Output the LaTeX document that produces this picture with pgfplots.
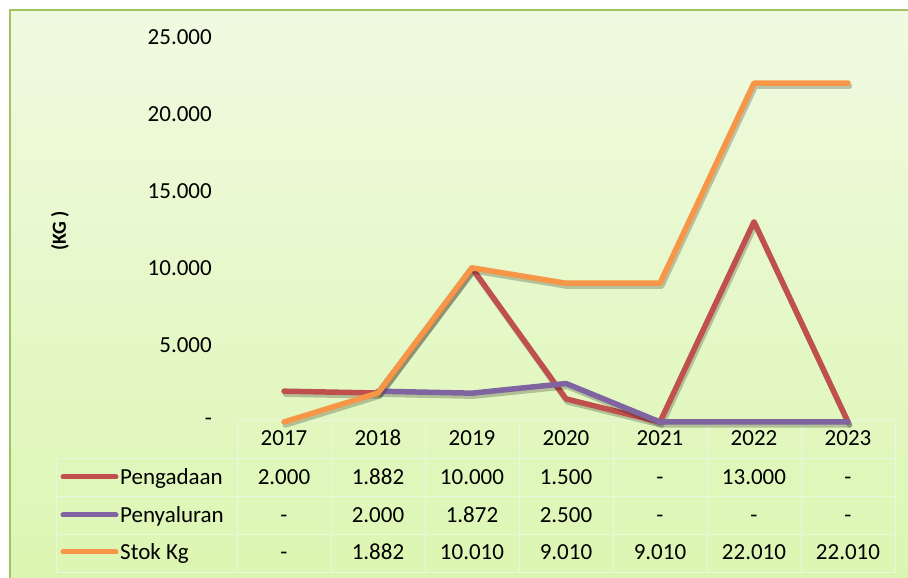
\documentclass[border=0pt]{standalone}
\usepackage{pgfplots}
\pgfplotsset{compat=1.18}
\usepackage{fontspec}
\setmainfont{Carlito}
\definecolor{cRed}{RGB}{192,80,77}
\definecolor{cPur}{RGB}{128,100,162}
\definecolor{cOra}{RGB}{247,150,70}
\definecolor{bgTop}{RGB}{240,250,225}
\definecolor{bgBot}{RGB}{220,246,178}
\definecolor{bord}{RGB}{160,195,100}
\definecolor{grid}{RGB}{236,246,222}
\newcommand{\tf}{\fontsize{23}{26}\selectfont}
\begin{document}
\begin{tikzpicture}
\useasboundingbox (0pt,0pt) rectangle (908pt,578pt);
\fill[white] (0pt,0pt) rectangle (908pt,578pt);
\shade[top color=bgTop, bottom color=bgBot] (10pt,0pt) rectangle (908pt,568pt);
\draw[bord, line width=2pt] (10pt,0pt) -- (10pt,568pt) -- (908pt,568pt);
% table grid
\begin{scope}[grid, line width=1pt]
\draw (237pt,157pt) -- (895pt,157pt);
\foreach \yy in {119,81,43,5} \draw (56pt,\yy pt) -- (895pt,\yy pt);
\draw (56pt,119pt) -- (56pt,5pt);
\foreach \xx in {237,331,425,519,613,707,801,895} \draw (\xx pt,157pt) -- (\xx pt,5pt);
\end{scope}
% legend keys
\begin{scope}[line width=5pt, line cap=round]
\draw[cRed] (63pt,101pt) -- (116pt,101pt);
\draw[cPur] (63pt,63pt) -- (116pt,63pt);
\draw[cOra] (63pt,26pt) -- (116pt,26pt);
\end{scope}
\node[anchor=base west, inner sep=0pt, font=\tf] at (120pt,93.7pt) {Pengadaan};
\node[anchor=base west, inner sep=0pt, font=\tf] at (120pt,55.7pt) {Penyaluran};
\node[anchor=base west, inner sep=0pt, font=\tf] at (120pt,18.7pt) {Stok Kg};
% table values
\foreach \lab [count=\i from 0] in {2017,2018,2019,2020,2021,2022,2023}
  \node[anchor=base, inner sep=0pt, font=\tf] at (284pt+94pt*\i,132.7pt) {\lab};
\foreach \lab [count=\i from 0] in {2.000,1.882,10.000,1.500,-,13.000,-}
  \node[anchor=base, inner sep=0pt, font=\tf] at (284pt+94pt*\i,93.7pt) {\lab};
\foreach \lab [count=\i from 0] in {-,2.000,1.872,2.500,-,-,-}
  \node[anchor=base, inner sep=0pt, font=\tf] at (284pt+94pt*\i,55.7pt) {\lab};
\foreach \lab [count=\i from 0] in {-,1.882,10.010,9.010,9.010,22.010,22.010}
  \node[anchor=base, inner sep=0pt, font=\tf] at (284pt+94pt*\i,18.7pt) {\lab};
\node[rotate=90, font=\fontsize{20}{24}\selectfont\bfseries, inner sep=0pt] at (60pt,347pt) {(KG )};
\begin{axis}[
  at={(237pt,156pt)}, anchor=south west,
  scale only axis, width=658pt, height=385pt,
  xmin=-0.5, xmax=6.5, ymin=0, ymax=25000,
  axis line style={draw=none},
  xtick=\empty,
  scaled y ticks=false,
  ytick={0,5000,10000,15000,20000,25000},
  yticklabels={-,5.000,10.000,15.000,20.000,25.000},
  major tick length=0pt,
  yticklabel style={anchor=east, inner sep=0pt, xshift=-25pt, font=\tf},
  clip=false,
  every axis plot/.append style={line width=5.5pt, line join=round, line cap=round,
    preaction={draw=black, opacity=0.22, transform canvas={xshift=1.5pt, yshift=-3pt}}},
]
\addplot[cRed, mark=none] coordinates {(0,2000) (1,1882) (2,10000) (3,1500) (4,0) (5,13000) (6,0)};
\addplot[cPur, mark=none] coordinates {(1,2000) (2,1872) (3,2500) (4,0) (5,0) (6,0)};
\addplot[cOra, mark=none] coordinates {(0,0) (1,1882) (2,10010) (3,9010) (4,9010) (5,22010) (6,22010)};
\end{axis}
\end{tikzpicture}
\end{document}
